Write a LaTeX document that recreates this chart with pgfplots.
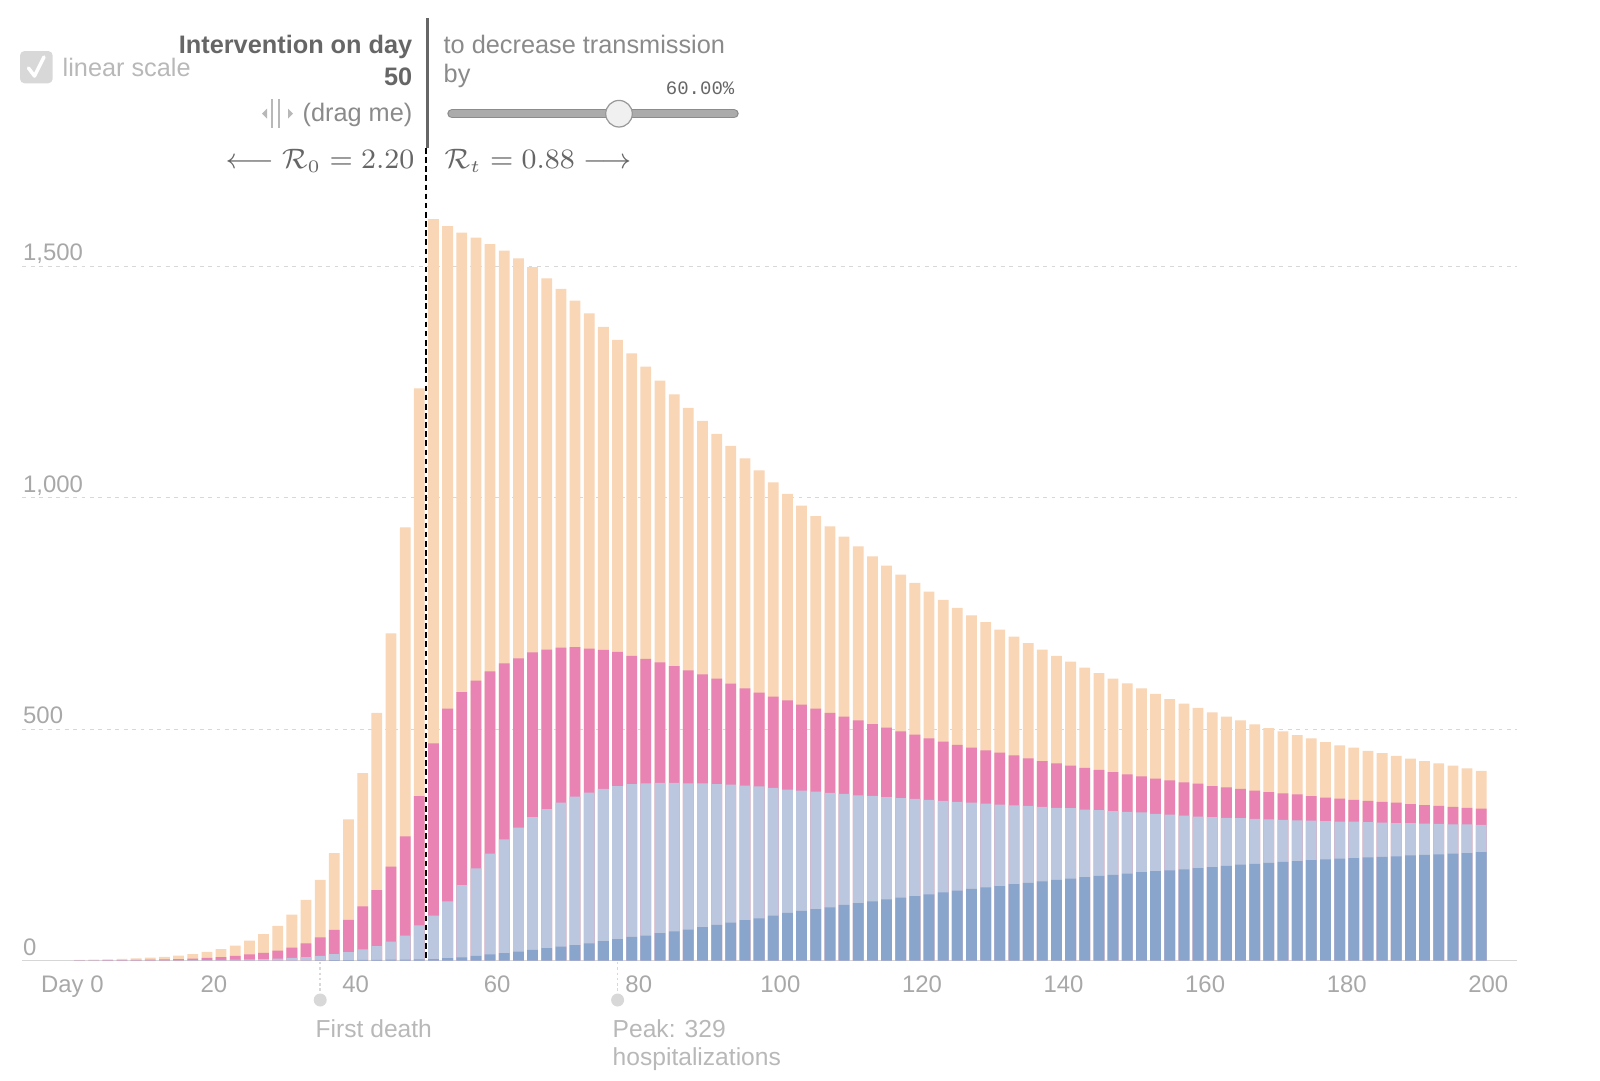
\documentclass[border=0pt]{standalone}
\usepackage{fontspec}
\setmainfont{Liberation Sans}
\newfontfamily\monofont{Liberation Mono}
\usepackage{pgfplots}
\usepackage{pgfplotstable}
\pgfplotsset{compat=1.18}

\definecolor{peach}{HTML}{F9D6B5}
\definecolor{rose}{HTML}{E883B4}
\definecolor{lblue}{HTML}{BBC7DF}
\definecolor{dblue}{HTML}{8AA5CC}
\definecolor{gridgray}{HTML}{D8D8D8}
\definecolor{basegray}{HTML}{D6D6D6}
\definecolor{tickgray}{HTML}{A8A8A8}
\definecolor{txtgray}{HTML}{8A8A8A}
\definecolor{darktxt}{HTML}{666666}
\definecolor{paletxt}{HTML}{B8B8B8}

% cumulative heights of the stacked bars
% (top = whole bar, rose = top of pink, lblue = top of light blue, dblue = dark blue)
\pgfplotstableread{
day top rose lblue dblue
1   1.5  0.3  0.05 0
3   2    0.5  0.1  0
5   2.5  0.7  0.1  0
7   3.5  1    0.15 0
9   4.5  1.3  0.2  0
11  6    1.7  0.3  0
13  8    2.3  0.4  0
15  10.5 3    0.5  0
17  14   4    0.7  0
19  18.5 5.5  1    0
21  24.5 7.2  1.3  0
23  32   10   1.7  0
25  43   13   2.3  0
27  57   16.6 3    0
29  75   21.6 4    0
31  99   28   5.5  0
33  131  37   7.5  0
35  174  50   10   0.5
37  232  66   14   0.7
39  305  88   18   1
41  405  117  24   1.2
43  535  152  31   1.5
45  707  203  41   1.8
47  936  268  54   2
49  1236 355  76   2.5
51  1602 469  97   3
53  1587 544  128  5
55  1573 580  163  7
57  1562 605  199  10
59  1548 625  231  13
61  1534 642  262  16
63  1517 653  287  19
65  1498 666  310  23
67  1474 672  327  27
69  1451 676  341  30
71  1426 677  354  33
73  1398 674  363  37
75  1369 671  371  42
77  1341 667  377  46
79  1312 658  381  51
81  1283 652  383  54
83  1253 644  384  59
85  1223 636  384  63
87  1194 627  383  67
89  1166 618  383  72
91  1138 609  381  77
93  1112 598  380  82
95  1085 588  378  87
97  1059 579  376  91
99  1033 570  373  97
101 1008 562  369  103
103 983  553  367  107
105 960  544  365  111
107 938  535  362  115
109 916  527  360  120
111 895  519  357  124
113 873  511  356  128
115 853  503  353  132
117 834  495  351  136
119 816  488  349  139
121 797  480  347  143
123 779  473  345  147
125 762  466  343  151
127 746  460  341  155
129 731  454  339  158
131 715  449  337  161
133 700  443  335  165
135 686  437  334  168
137 672  431  332  171
139 658  426  330  174
141 646  421  329  177
143 633  416  326  180
145 621  412  325  183
147 609  407  323  185
149 599  402  321  188
151 588  398  320  191
153 576  393  317  193
155 565  389  315  195
157 555  385  313  197
159 546  382  311  199.5
161 536  377  310  202
163 527  374  308  204.5
165 519  371  307.5 207
167 510  367  306  209
169 502  364  305  211
171 495  361  304  213
173 487  359  303  215
175 480  355  302  217
177 472  352  301  218.5
179 465  350  300  220
181 460  347  300  221
183 453  345  299  222.6
185 448  343  298  224
187 442  341  297  225
189 436  338  297  227
191 431  336  296  228
193 426  334  295  229.5
195 421  332  294  231
197 415  330  294  232
199 410  328  293  234
}\seirdata

\begin{document}
\begin{tikzpicture}
\begin{scope}[x=0.1mm,y=-0.1mm]
  \path[use as bounding box] (0,0) rectangle (1600,1080);
\end{scope}

\begin{axis}[
  at={(0.225cm,-9.605cm)}, anchor=south west,
  scale only axis, width=14.945cm, height=7.868cm,
  xmin=-7.05, xmax=204.05, ymin=0, ymax=1700,
  axis line style={draw=none},
  major tick length=0pt,
  xtick={0,20,...,200},
  xticklabels={Day 0,20,40,60,80,100,120,140,160,180,200},
  ytick={0,500,1000,1500},
  yticklabels={0,500,{1,000},{1,500}},
  ymajorgrids,
  major grid style={gridgray, line width=0.3pt, dash pattern=on 1.1pt off 1.3pt},
  /pgf/number format/assume math mode=true,
  ticklabel style={font=\fontsize{6.8}{8}\selectfont, text=tickgray, inner sep=0pt},
  xticklabel style={anchor=base, yshift=-3.2mm},
  yticklabel style={anchor=base west, yshift=0.55mm},
  clip=false,
]
\draw[basegray, line width=0.55pt] (axis cs:-7.05,0) -- (axis cs:204.05,0);
\addplot[ybar, bar shift=0pt, bar width=1.52, fill=peach, draw=none] table[x=day, y=top] {\seirdata};
\addplot[ybar, bar shift=0pt, bar width=1.52, fill=rose, draw=none] table[x=day, y=rose] {\seirdata};
\addplot[ybar, bar shift=0pt, bar width=1.52, fill=lblue, draw=none] table[x=day, y=lblue] {\seirdata};
\addplot[ybar, bar shift=0pt, bar width=1.52, fill=dblue, draw=none] table[x=day, y=dblue] {\seirdata};
\end{axis}

\begin{scope}[x=0.1mm,y=-0.1mm]
  % checkbox
  \fill[gridgray, rounded corners=0.45mm] (20,51) rectangle (52.7,83.3);
  \draw[white, line width=1pt, line cap=round, line join=round] (28.5,68) -- (34.5,76) -- (44,57);
  \node[anchor=base west, inner sep=0, text=paletxt, font=\fontsize{7.2}{8}\selectfont] at (62,76.5) {linear scale};

  % intervention handle
  \node[anchor=base east, inner sep=0, text=darktxt, font=\fontsize{7.2}{8}\selectfont\bfseries] at (413,53) {Intervention on day};
  \node[anchor=base east, inner sep=0, text=darktxt, font=\fontsize{7.2}{8}\selectfont\bfseries] at (413,85.5) {50};
  \node[anchor=base east, inner sep=0, text=txtgray, font=\fontsize{7.2}{8}\selectfont] at (413,121) {(drag me)};
  \fill[paletxt] (262,113.5) -- (267,108.5) -- (267,118.5) -- cycle;
  \fill[paletxt] (293,113.5) -- (288,108.5) -- (288,118.5) -- cycle;
  \draw[paletxt, line width=0.8pt] (272,99) -- (272,128);
  \draw[paletxt, line width=0.8pt] (279,99) -- (279,128);
  \draw[darktxt, line width=0.75pt] (427.5,18) -- (427.5,148);
  \draw[black, line width=0.55pt, dash pattern=on 1.6pt off 1pt] (426.4,148) -- (426.4,960);

  % transmission slider
  \node[anchor=base west, inner sep=0, text=txtgray, font=\fontsize{7.2}{8}\selectfont] at (443,53) {to decrease transmission};
  \node[anchor=base west, inner sep=0, text=txtgray, font=\fontsize{7.2}{8}\selectfont] at (443,82) {by};
  \node[anchor=base east, inner sep=0, text=darktxt, font=\monofont\fontsize{5.4}{6}\selectfont] at (735,94.5) {60.00\%};
  \draw[black!45, line width=2.7pt, line cap=round] (452,113.7) -- (734,113.7);
  \draw[black!33, line width=1.9pt, line cap=round] (452,113.7) -- (734,113.7);
  \filldraw[fill=white!94!black, draw=black!40, line width=0.35pt] (619,113.7) circle (13.3);

  % reproduction numbers
  \node[anchor=base east, inner sep=0, text=darktxt, font=\fontsize{7.6}{9}\selectfont] at (415,168.5) {$\longleftarrow \mathcal{R}_0 = 2.20$};
  \node[anchor=base west, inner sep=0, text=darktxt, font=\fontsize{7.6}{9}\selectfont] at (444,168.5) {$\mathcal{R}_t = 0.88 \longrightarrow$};

  % annotations
  \draw[gridgray, line width=0.5pt, dash pattern=on 0.7pt off 0.8pt] (320.2,962) -- (320.2,995);
  \fill[gridgray] (320.2,1000) circle (6.5);
  \node[anchor=base west, inner sep=0, text=paletxt, font=\fontsize{7}{8}\selectfont] at (315,1037.5) {First death};
  \draw[gridgray, line width=0.5pt, dash pattern=on 0.7pt off 0.8pt] (617.6,962) -- (617.6,995);
  \fill[gridgray] (617.6,1000) circle (6.5);
  \node[anchor=base west, inner sep=0, text=paletxt, font=\fontsize{7}{8}\selectfont] at (612,1037.5) {Peak: 329};
  \node[anchor=base west, inner sep=0, text=paletxt, font=\fontsize{7}{8}\selectfont] at (612,1065) {hospitalizations};
\end{scope}
\end{tikzpicture}
\end{document}
